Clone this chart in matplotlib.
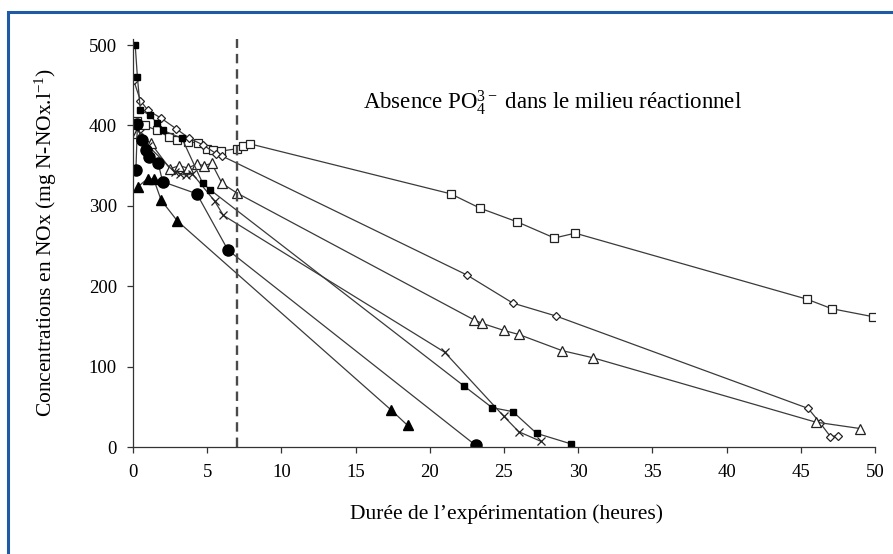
import matplotlib.pyplot as plt
from matplotlib.patches import Rectangle

plt.rcParams['font.family'] = ['Liberation Serif', 'DejaVu Serif']
plt.rcParams['mathtext.fontset'] = 'custom'
plt.rcParams['mathtext.rm'] = 'Liberation Serif'
plt.rcParams['mathtext.it'] = 'Liberation Serif:italic'

# NOx concentrations (mg N-NOx/l) over time (h), one list pair per run
t_sq = [0.3, 0.8, 1.6, 2.4, 3.0, 3.7, 4.4, 5.0, 5.4, 5.9, 7.0, 7.4, 7.9, 21.4, 23.4, 25.9, 28.4, 29.8, 45.4, 47.1, 49.9]
c_sq = [405, 400, 394, 386, 382, 380, 378, 371, 369, 368, 371, 375, 377, 315, 297, 280, 260, 266, 184, 172, 162]

t_di = [0.05, 0.5, 1.0, 1.9, 2.9, 3.8, 4.7, 5.6, 6.0, 22.5, 25.6, 28.5, 45.5, 46.3, 47.0, 47.5]
c_di = [456, 431, 419, 409, 396, 384, 376, 365, 362, 214, 179, 163, 48, 30, 13, 14]

t_tr = [0.3, 0.6, 1.2, 2.5, 3.1, 3.7, 4.3, 4.8, 5.3, 6.0, 7.0, 23.0, 23.5, 25.0, 26.0, 28.9, 31.0, 46.0, 49.0]
c_tr = [390, 385, 378, 346, 350, 347, 352, 350, 353, 328, 316, 158, 154, 145, 140, 120, 111, 31, 23]

t_x = [0.2, 0.5, 1.0, 2.8, 3.2, 3.6, 4.0, 5.5, 6.1, 21.0, 25.0, 26.0, 27.5]
c_x = [400, 390, 375, 342, 340, 338, 340, 306, 288, 118, 38, 19, 7]

t_fsq = [0.15, 0.3, 0.5, 1.15, 1.6, 2.0, 3.3, 4.7, 5.2, 22.3, 24.2, 25.6, 27.2, 29.5]
c_fsq = [500, 460, 419, 413, 403, 394, 384, 328, 320, 76, 49, 44, 17, 4]

t_fci = [0.2, 0.3, 0.6, 0.9, 1.1, 1.7, 2.0, 4.3, 6.4, 23.1]
c_fci = [345, 402, 382, 369, 361, 353, 330, 315, 245, 2]

t_ftr = [0.35, 1.0, 1.4, 1.9, 3.0, 17.4, 18.5]
c_ftr = [324, 334, 333, 307, 281, 46, 27]

x_ticks = [0, 5, 10, 15, 20, 25, 30, 35, 40, 45, 50]
y_ticks = [0, 100, 200, 300, 400, 500]
t_phase = 7

fig = plt.figure(figsize=(8.93, 5.54), dpi=100)
ax = fig.add_axes([0.1489, 0.1931, 0.8309, 0.7372])

line_kw = dict(color='#3a3a3a', lw=0.9)
ax.plot(t_sq, c_sq, marker='s', ms=6, mfc='white', mec='#222222', mew=0.9, **line_kw)
ax.plot(t_di, c_di, marker='D', ms=4.5, mfc='white', mec='#222222', mew=0.9, **line_kw)
ax.plot(t_tr, c_tr, marker='^', ms=6.5, mfc='white', mec='#222222', mew=0.9, **line_kw)
ax.plot(t_x, c_x, marker='x', ms=6, mec='#222222', mew=0.9, **line_kw)
ax.plot(t_fsq, c_fsq, marker='s', ms=4.5, mfc='black', mec='black', **line_kw)
ax.plot(t_fci, c_fci, marker='o', ms=8, mfc='black', mec='black', **line_kw)
ax.plot(t_ftr, c_ftr, marker='^', ms=6.5, mfc='black', mec='black', **line_kw)

ax.axvline(t_phase, color='#4a4a4a', lw=1.7, ls=(0, (4, 2.5)))

ax.text(28.3, 428, r'Absence PO$_4^{3-}$ dans le milieu réactionnel',
        ha='center', va='center', fontsize=16.5)

ax.set_xlim(0, 50)
ax.set_ylim(0, 508)
ax.set_xticks(x_ticks)
ax.set_yticks(y_ticks)
ax.tick_params(labelsize=13.5, length=4.5, width=0.9, direction='out', color='#333333')
ax.tick_params(axis='x', pad=8)
ax.tick_params(axis='y', pad=7)
for side in ['top', 'right']:
    ax.spines[side].set_visible(False)
for side in ['left', 'bottom']:
    ax.spines[side].set_linewidth(0.9)
    ax.spines[side].set_color('#333333')

ax.set_xlabel('Durée de l’expérimentation (heures)', fontsize=15.5)
ax.set_ylabel(r'Concentrations en NOx (mg N-NOx.l$^{-1}$)', fontsize=15.5)
ax.xaxis.set_label_coords(0.504, -0.14)
ax.yaxis.set_label_coords(-0.1, 0.5)

# blue frame around the figure (left and top edges visible)
fig.add_artist(Rectangle((8 / 893, -0.5), 2.0, 0.5 + 1 - 12 / 554,
                         transform=fig.transFigure, fill=False,
                         ec='#1f5aa6', lw=2.2, clip_on=False))

fig.savefig('out.png', dpi=100)
